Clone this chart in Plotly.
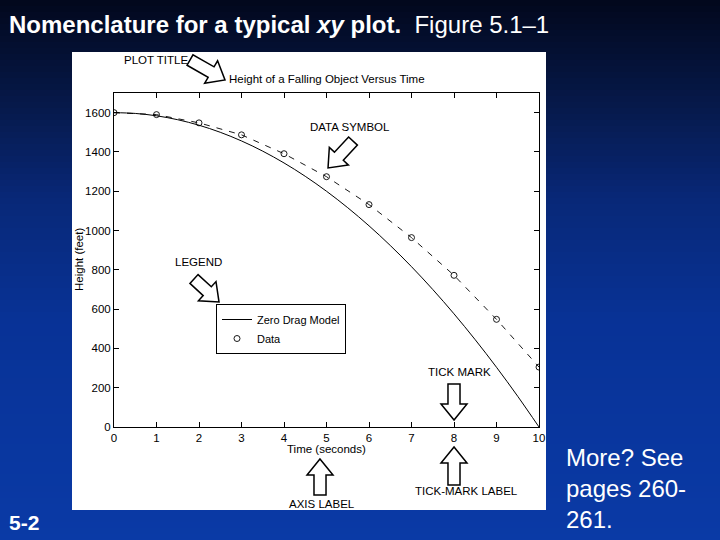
import plotly.graph_objects as go
import math

# ---- data ----
model_t = [0, 0.5, 1, 1.5, 2, 2.5, 3, 3.5, 4, 4.5, 5, 5.5, 6, 6.5, 7, 7.5, 8, 8.5, 9, 9.5, 10]
model_h = [1600, 1596, 1584, 1564, 1536, 1500, 1456, 1404, 1344, 1276, 1200, 1116, 1024, 924, 816, 700, 576, 444, 304, 156, 0]
data_t = [0, 1, 2, 3, 4, 5, 6, 7, 8, 9, 10]
data_h = [1600, 1590, 1548, 1487, 1391, 1274, 1132, 964, 772, 548, 305]
x_ticks = [0, 1, 2, 3, 4, 5, 6, 7, 8, 9, 10]
y_ticks = [0, 200, 400, 600, 800, 1000, 1200, 1400, 1600]

W, H = 720, 540
def px(x): return x / W
def py(y): return 1 - y / H

FONT = "Liberation Sans, Arial, Helvetica"

fig = go.Figure()
fig.add_trace(go.Scatter(x=model_t, y=model_h, mode="lines", name="Zero Drag Model",
                         line=dict(color="black", width=1, shape="spline")))
fig.add_trace(go.Scatter(x=data_t, y=data_h, mode="lines", showlegend=False,
                         line=dict(color="black", width=0.9, dash="6px,7px")))
fig.add_trace(go.Scatter(x=data_t, y=data_h, mode="markers", name="Data",
                         marker=dict(symbol="circle-open", size=6, color="black",
                                     line=dict(width=0.9, color="black"))))

shapes = []
# slide background gradient
stops = [(0, (2, 8, 28)), (100, (6, 24, 72)), (200, (8, 40, 120)), (320, (8, 50, 150)), (540, (10, 58, 166))]
def col(y):
    for (y0, c0), (y1, c1) in zip(stops[:-1], stops[1:]):
        if y0 <= y <= y1:
            f = (y - y0) / (y1 - y0)
            return "rgb(%d,%d,%d)" % tuple(round(a + (b - a) * f) for a, b in zip(c0, c1))
    return "rgb(10,58,166)"
step = 6
for y in range(0, H, step):
    shapes.append(dict(type="rect", xref="paper", yref="paper", x0=0, x1=1,
                       y0=py(y + step + 0.5), y1=py(y), fillcolor=col(y + step / 2),
                       line=dict(width=0), layer="below"))
# white figure panel
shapes.append(dict(type="rect", xref="paper", yref="paper", x0=px(72), x1=px(546),
                   y0=py(510), y1=py(52), fillcolor="white", line=dict(width=0), layer="below"))

def block_arrow(tail, tip, sw=6, hw=13, hl=16):
    x0, y0 = tail; x1, y1 = tip
    d = math.hypot(x1 - x0, y1 - y0)
    ux, uy = (x1 - x0) / d, (y1 - y0) / d
    nx, ny = -uy, ux
    bx, by = x1 - ux * hl, y1 - uy * hl
    pts = [(x0 + nx * sw, y0 + ny * sw), (bx + nx * sw, by + ny * sw), (bx + nx * hw, by + ny * hw),
           (x1, y1), (bx - nx * hw, by - ny * hw), (bx - nx * sw, by - ny * sw), (x0 - nx * sw, y0 - ny * sw)]
    path = "M " + " L ".join("%.4f,%.4f" % (px(a), py(b)) for a, b in pts) + " Z"
    return dict(type="path", xref="paper", yref="paper", path=path, fillcolor="white",
                line=dict(color="black", width=1.5), layer="above")

shapes += [
    block_arrow((190, 60), (225, 80)),
    block_arrow((353, 141), (328, 168)),
    block_arrow((194, 279), (219, 302)),
    block_arrow((454, 384), (454, 420)),
    block_arrow((454, 485), (454, 447)),
    block_arrow((320, 495), (320, 459)),
]

ann_font = dict(family=FONT, size=11.5, color="black")
def lab(text, x, y, **kw):
    d = dict(text=text, x=px(x), y=py(y), xref="paper", yref="paper", showarrow=False,
             font=ann_font, xanchor="center", yanchor="middle")
    d.update(kw)
    return d

annotations = [
    lab("PLOT TITLE", 156, 60),
    lab("Height of a Falling Object Versus Time", 327, 79),
    lab("DATA SYMBOL", 350, 127),
    lab("LEGEND", 198, 262),
    lab("TICK MARK", 460, 372),
    lab("TICK-MARK LABEL", 466, 491),
    lab("AXIS LABEL", 322, 504),
    lab("Time (seconds)", 326, 449),
    lab("Height (feet)", 79, 260, textangle=-90),
    dict(text="<b>Nomenclature for a typical <i>xy</i> plot.</b>  Figure 5.1\u20131", x=px(7), y=py(25),
         xref="paper", yref="paper", showarrow=False, xanchor="left", yanchor="middle",
         font=dict(family=FONT, size=24, color="white")),
    dict(text="<b>5-2</b>", x=px(7), y=py(522), xref="paper", yref="paper", showarrow=False,
         xanchor="left", yanchor="middle", font=dict(family=FONT, size=21, color="white")),
    dict(text="More? See<br>pages 260-<br>261.", x=px(564), y=py(442), xref="paper", yref="paper",
         showarrow=False, xanchor="left", yanchor="top", align="left",
         font=dict(family=FONT, size=24, color="white")),
]

axis_common = dict(showline=True, linecolor="black", linewidth=1, mirror="ticks", ticks="inside",
                   ticklen=5, tickcolor="black", showgrid=False, zeroline=False, automargin=False,
                   tickfont=dict(family=FONT, size=11.5, color="black"))

fig.update_layout(
    width=W, height=H, margin=dict(l=0, r=0, t=0, b=0),
    paper_bgcolor="rgb(10,40,120)", plot_bgcolor="rgba(0,0,0,0)",
    xaxis=dict(domain=[px(114), px(539)], range=[0, 10], tickvals=x_ticks, **axis_common),
    yaxis=dict(domain=[py(427), py(93)], range=[0, 1700], tickvals=y_ticks, **axis_common),
    shapes=shapes, annotations=annotations,
    legend=dict(x=px(216), y=py(304), xanchor="left", yanchor="top", bgcolor="white",
                bordercolor="black", borderwidth=1, font=dict(family=FONT, size=11, color="black"),
                tracegroupgap=0, itemwidth=30),
    showlegend=True,
)
fig.write_html("out.html", config={"displayModeBar": False},
               post_script="document.body.style.margin='0';document.body.style.overflow='hidden';")
